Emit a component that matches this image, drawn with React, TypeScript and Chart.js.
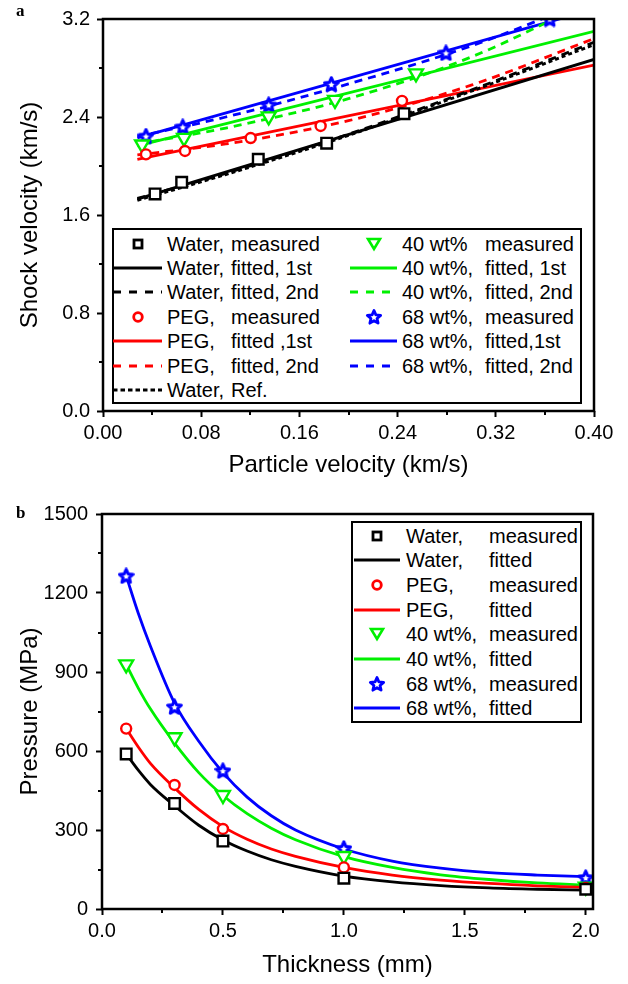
import React, { useEffect, useRef } from 'react';
import { Chart, registerables } from 'chart.js';

Chart.register(...registerables);

const FONT = '"Liberation Sans", Arial, Helvetica, sans-serif';
const BLACK = '#000000';
const RED = '#ff0000';
const GREEN = '#00f000';
const BLUE = '#0000ff';

// ---------------- Panel a : Shock velocity vs Particle velocity ----------------
const aXTicks = [0, 0.08, 0.16, 0.24, 0.32, 0.4];
const aXMinor = [0.04, 0.12, 0.2, 0.28, 0.36];
const aYTicks = [0, 0.8, 1.6, 2.4, 3.2];
const aYMinor = [0.4, 1.2, 2.0, 2.8];

const waterMeasUp = [0.0424, 0.0641, 0.1265, 0.1822, 0.2452];
const waterMeasUs = [1.772, 1.867, 2.055, 2.186, 2.427];
const pegMeasUp = [0.035, 0.0668, 0.1203, 0.1773, 0.2436];
const pegMeasUs = [2.095, 2.123, 2.228, 2.327, 2.532];
const wt40MeasUp = [0.0318, 0.066, 0.135, 0.189, 0.255];
const wt40MeasUs = [2.176, 2.23, 2.405, 2.54, 2.756];
const wt68MeasUp = [0.035, 0.065, 0.135, 0.186, 0.2794, 0.364];
const wt68MeasUs = [2.244, 2.319, 2.499, 2.667, 2.923, 3.2];

// 1st-order fitted lines (end points)
const fit1Up = [0.028, 0.4];
const waterFit1Us = [1.73, 2.87];
const pegFit1Us = [2.055, 2.823];
const wt40Fit1Us = [2.165, 3.1];
const wt68Fit1Us = [2.23, 3.28];

// 2nd-order fitted curves and water reference
const fit2Up = [0.028, 0.1, 0.2, 0.3, 0.4];
const waterFit2Us = [1.735, 1.94, 2.26, 2.62, 3.01];
const waterRefUs = [1.72, 1.93, 2.25, 2.61, 2.99];
const pegFit2Us = [2.09, 2.18, 2.37, 2.66, 3.04];
const wt40Fit2Us = [2.18, 2.31, 2.55, 2.89, 3.36];
const wt68Fit2Us = [2.24, 2.4, 2.67, 2.98, 3.37];

// ---------------- Panel b : Pressure vs Thickness ----------------
const bXTicks = [0, 0.5, 1.0, 1.5, 2.0];
const bXMinor = [0.25, 0.75, 1.25, 1.75];
const bYTicks = [0, 300, 600, 900, 1200, 1500];
const bYMinor = [150, 450, 750, 1050, 1350];

const thickMeas = [0.1, 0.3, 0.5, 1.0, 2.0];
const waterP = [589, 401, 258, 117, 75];
const pegP = [685, 471, 304, 158, 80];
const wt40P = [929, 652, 433, 201, 85];
const wt68P = [1265, 768, 525, 230, 119];

const thickFit = [0.1, 0.15, 0.2, 0.3, 0.4, 0.5, 0.6, 0.7, 0.8, 1.0, 1.2, 1.4, 1.6, 1.8, 2.0];
const waterFitP = [589, 527, 473, 392, 318, 262, 220, 187, 162, 125, 103, 89, 80, 75, 72];
const pegFitP = [685, 615, 553, 460, 378, 313, 265, 228, 200, 158, 129, 110, 97, 88, 82];
const wt40FitP = [929, 839, 760, 630, 518, 431, 362, 307, 263, 199, 158, 130, 112, 99, 91];
const wt68FitP = [1265, 1123, 999, 782, 637, 518, 425, 354, 300, 228, 182, 155, 138, 129, 123];

// ---------------- Legends ----------------
type Sym = 'square' | 'circle' | 'tri' | 'star' | 'solid' | 'dash' | 'dot';
interface LegItem { a: string; b: string; color: string; sym: Sym }

const legendA1: LegItem[] = [
  { a: 'Water,', b: 'measured', color: BLACK, sym: 'square' },
  { a: 'Water,', b: 'fitted, 1st', color: BLACK, sym: 'solid' },
  { a: 'Water,', b: 'fitted, 2nd', color: BLACK, sym: 'dash' },
  { a: 'PEG,', b: 'measured', color: RED, sym: 'circle' },
  { a: 'PEG,', b: 'fitted ,1st', color: RED, sym: 'solid' },
  { a: 'PEG,', b: 'fitted, 2nd', color: RED, sym: 'dash' },
  { a: 'Water,', b: 'Ref.', color: BLACK, sym: 'dot' },
];
const legendA2: LegItem[] = [
  { a: '40 wt%', b: 'measured', color: GREEN, sym: 'tri' },
  { a: '40 wt%,', b: 'fitted, 1st', color: GREEN, sym: 'solid' },
  { a: '40 wt%,', b: 'fitted, 2nd', color: GREEN, sym: 'dash' },
  { a: '68 wt%,', b: 'measured', color: BLUE, sym: 'star' },
  { a: '68 wt%,', b: 'fitted,1st', color: BLUE, sym: 'solid' },
  { a: '68 wt%,', b: 'fitted, 2nd', color: BLUE, sym: 'dash' },
];
const legendB: LegItem[] = [
  { a: 'Water,', b: 'measured', color: BLACK, sym: 'square' },
  { a: 'Water,', b: 'fitted', color: BLACK, sym: 'solid' },
  { a: 'PEG,', b: 'measured', color: RED, sym: 'circle' },
  { a: 'PEG,', b: 'fitted', color: RED, sym: 'solid' },
  { a: '40 wt%,', b: 'measured', color: GREEN, sym: 'tri' },
  { a: '40 wt%,', b: 'fitted', color: GREEN, sym: 'solid' },
  { a: '68 wt%,', b: 'measured', color: BLUE, sym: 'star' },
  { a: '68 wt%,', b: 'fitted', color: BLUE, sym: 'solid' },
];

// ---------------- helpers ----------------
const pts = (xs: number[], ys: number[]) => xs.map((x, i) => ({ x, y: ys[i] }));

function makeStarCanvas(size: number, color: string) {
  const c = document.createElement('canvas');
  c.width = size;
  c.height = size;
  const ctx = c.getContext('2d')!;
  const cx = size / 2;
  const cy = size / 2 + 0.6;
  const R = size / 2 - 1.3;
  const r = R * 0.46;
  ctx.beginPath();
  for (let i = 0; i < 10; i++) {
    const ang = -Math.PI / 2 + (i * Math.PI) / 5;
    const rad = i % 2 === 0 ? R : r;
    const x = cx + rad * Math.cos(ang);
    const y = cy + rad * Math.sin(ang);
    if (i === 0) ctx.moveTo(x, y);
    else ctx.lineTo(x, y);
  }
  ctx.closePath();
  ctx.fillStyle = '#ffffff';
  ctx.fill();
  ctx.strokeStyle = color;
  ctx.lineWidth = 3;
  ctx.lineJoin = 'round';
  ctx.stroke();
  return c;
}

const framePlugin = {
  id: 'frame',
  afterDraw(chart: any, _args: any, opts: any) {
    const { ctx, chartArea } = chart;
    const { left, right, top, bottom } = chartArea;
    const xs = chart.scales.x;
    const ys = chart.scales.y;
    ctx.save();
    ctx.strokeStyle = '#000';
    ctx.lineWidth = 2;
    for (const v of opts.xMinor || []) {
      const px = Math.round(xs.getPixelForValue(v));
      ctx.beginPath();
      ctx.moveTo(px, bottom);
      ctx.lineTo(px, bottom + 4);
      ctx.stroke();
    }
    for (const v of opts.yMinor || []) {
      const py = Math.round(ys.getPixelForValue(v));
      ctx.beginPath();
      ctx.moveTo(left, py);
      ctx.lineTo(left - 4, py);
      ctx.stroke();
    }
    ctx.lineWidth = 2.5;
    ctx.strokeRect(left, top, right - left, bottom - top);
    ctx.restore();
  },
};

function axis(o: {
  min: number; max: number; ticks: number[]; dec: number; title: string;
  horizontal: boolean; size: number; padding: number; titlePad: any;
}) {
  return {
    type: 'linear',
    min: o.min,
    max: o.max,
    afterFit: (s: any) => {
      if (o.horizontal) s.height = o.size;
      else s.width = o.size;
    },
    afterBuildTicks: (s: any) => {
      s.ticks = o.ticks.map((v) => ({ value: v }));
    },
    ticks: {
      callback: (v: any) => Number(v).toFixed(o.dec),
      font: { family: FONT, size: 20 },
      color: '#000',
      padding: o.padding,
      maxRotation: 0,
      autoSkip: false,
    },
    grid: {
      display: true,
      drawOnChartArea: false,
      drawTicks: true,
      tickLength: 6,
      tickWidth: 2,
      tickColor: '#000',
    },
    border: { display: false },
    title: {
      display: true,
      text: o.title,
      font: { family: FONT, size: 24 },
      color: '#000',
      padding: o.titlePad,
    },
  };
}

function measured(label: string, xs: number[], ys: number[], color: string, style: any, radius: number, rot = 0) {
  return {
    label,
    data: pts(xs, ys),
    showLine: false,
    pointStyle: style,
    pointRadius: radius,
    pointHoverRadius: radius,
    pointRotation: rot,
    pointBorderWidth: 2.4,
    pointBorderColor: color,
    pointBackgroundColor: '#ffffff',
    borderColor: color,
    backgroundColor: '#ffffff',
    order: 0,
  };
}

function fitted(label: string, xs: number[], ys: number[], color: string, dash: number[], curve: boolean) {
  return {
    label,
    data: pts(xs, ys),
    showLine: true,
    borderColor: color,
    borderWidth: 2.8,
    borderDash: dash,
    pointRadius: 0,
    pointHoverRadius: 0,
    cubicInterpolationMode: curve ? 'monotone' : 'default',
    tension: 0,
    fill: false,
    order: 1,
  };
}

const DASH = [8, 6];
const DOT = [4, 3];

function LegendSymbol({ item, x0, x1, mid, cy }: { item: LegItem; x0: number; x1: number; mid: number; cy: number }) {
  const w = x1 - x0;
  let el: any = null;
  const c = item.color;
  if (item.sym === 'solid' || item.sym === 'dash' || item.sym === 'dot') {
    const da = item.sym === 'dash' ? '8 8' : item.sym === 'dot' ? '4.5 3' : undefined;
    el = <line x1={0} y1={8} x2={w} y2={8} stroke={c} strokeWidth={2.8} strokeDasharray={da} />;
  } else {
    const m = mid - x0;
    if (item.sym === 'square') el = <rect x={m - 4} y={4} width={8} height={8} fill="#fff" stroke={c} strokeWidth={2.8} />;
    if (item.sym === 'circle') el = <circle cx={m} cy={8} r={4.3} fill="#fff" stroke={c} strokeWidth={2.8} />;
    if (item.sym === 'tri') el = <polygon points={`${m - 6},${3} ${m + 6},${3} ${m},${13}`} fill="#fff" stroke={c} strokeWidth={2.6} />;
    if (item.sym === 'star') {
      const p: string[] = [];
      for (let i = 0; i < 10; i++) {
        const ang = -Math.PI / 2 + (i * Math.PI) / 5;
        const rad = i % 2 === 0 ? 7 : 3.2;
        p.push(`${(m + rad * Math.cos(ang)).toFixed(2)},${(8.5 + rad * Math.sin(ang)).toFixed(2)}`);
      }
      el = <polygon points={p.join(' ')} fill="#fff" stroke={c} strokeWidth={2.8} strokeLinejoin="round" />;
    }
  }
  return (
    <svg width={w} height={16} style={{ position: 'absolute', left: x0, top: cy - 8, overflow: 'visible' }}>
      {el}
    </svg>
  );
}

function LegendColumn({ items, x0, x1, mid, tx, tx2, cy0, dy }: any) {
  return (
    <>
      {items.map((it: LegItem, i: number) => {
        const cy = cy0 + i * dy;
        return (
          <React.Fragment key={i}>
            <LegendSymbol item={it} x0={x0} x1={x1} mid={mid} cy={cy} />
            <div style={{ position: 'absolute', left: tx, top: cy - 12, font: `20px ${FONT}`, lineHeight: '24px', whiteSpace: 'pre', color: '#000' }}>{it.a}</div>
            <div style={{ position: 'absolute', left: tx2, top: cy - 12, font: `20px ${FONT}`, lineHeight: '24px', whiteSpace: 'pre', color: '#000' }}>{it.b}</div>
          </React.Fragment>
        );
      })}
    </>
  );
}

export default function App() {
  const refA = useRef<HTMLCanvasElement>(null);
  const refB = useRef<HTMLCanvasElement>(null);

  useEffect(() => {
    const star = makeStarCanvas(17, BLUE);

    const cfgA: any = {
      type: 'scatter',
      data: {
        datasets: [
          measured('Water, measured', waterMeasUp, waterMeasUs, BLACK, 'rect', 7.5),
          measured('PEG, measured', pegMeasUp, pegMeasUs, RED, 'circle', 5),
          measured('40 wt% measured', wt40MeasUp, wt40MeasUs, GREEN, 'triangle', 8, 180),
          measured('68 wt%, measured', wt68MeasUp, wt68MeasUs, BLUE, star, 8),
          fitted('Water, fitted, 1st', fit1Up, waterFit1Us, BLACK, [], false),
          fitted('Water, fitted, 2nd', fit2Up, waterFit2Us, BLACK, DASH, true),
          fitted('Water, Ref.', fit2Up, waterRefUs, BLACK, DOT, true),
          fitted('PEG, fitted ,1st', fit1Up, pegFit1Us, RED, [], false),
          fitted('PEG, fitted, 2nd', fit2Up, pegFit2Us, RED, DASH, true),
          fitted('40 wt%, fitted, 1st', fit1Up, wt40Fit1Us, GREEN, [], false),
          fitted('40 wt%, fitted, 2nd', fit2Up, wt40Fit2Us, GREEN, DASH, true),
          fitted('68 wt%, fitted,1st', fit1Up, wt68Fit1Us, BLUE, [], false),
          fitted('68 wt%, fitted, 2nd', fit2Up, wt68Fit2Us, BLUE, DASH, true),
        ],
      },
      options: {
        responsive: false,
        animation: false,
        events: [],
        layout: { padding: { top: 15, right: 34, left: 0, bottom: 0 } },
        scales: {
          x: axis({ min: 0, max: 0.4, ticks: aXTicks, dec: 2, title: 'Particle velocity (km/s)', horizontal: true, size: 81, padding: 4, titlePad: { top: 0, bottom: 12 } }),
          y: axis({ min: 0, max: 3.2, ticks: aYTicks, dec: 1, title: 'Shock velocity (km/s)', horizontal: false, size: 103, padding: 7, titlePad: { top: 16, bottom: 0 } }),
        },
        plugins: {
          legend: { display: false },
          tooltip: { enabled: false },
          frame: { xMinor: aXMinor, yMinor: aYMinor },
        },
      },
      plugins: [framePlugin],
    };

    const cfgB: any = {
      type: 'scatter',
      data: {
        datasets: [
          measured('Water, measured', thickMeas, waterP, BLACK, 'rect', 7.5),
          measured('PEG, measured', thickMeas, pegP, RED, 'circle', 5),
          measured('40 wt%, measured', thickMeas, wt40P, GREEN, 'triangle', 8, 180),
          measured('68 wt%, measured', thickMeas, wt68P, BLUE, star, 8),
          fitted('Water, fitted', thickFit, waterFitP, BLACK, [], true),
          fitted('PEG, fitted', thickFit, pegFitP, RED, [], true),
          fitted('40 wt%, fitted', thickFit, wt40FitP, GREEN, [], true),
          fitted('68 wt%, fitted', thickFit, wt68FitP, BLUE, [], true),
        ],
      },
      options: {
        responsive: false,
        animation: false,
        events: [],
        layout: { padding: { top: 22, right: 35, left: 0, bottom: 0 } },
        scales: {
          x: axis({ min: 0, max: 2.03, ticks: bXTicks, dec: 1, title: 'Thickness (mm)', horizontal: true, size: 75, padding: 4, titlePad: { top: 0, bottom: 4 } }),
          y: axis({ min: 0, max: 1500, ticks: bYTicks, dec: 0, title: 'Pressure (MPa)', horizontal: false, size: 102, padding: 8, titlePad: { top: 16, bottom: 0 } }),
        },
        plugins: {
          legend: { display: false },
          tooltip: { enabled: false },
          frame: { xMinor: bXMinor, yMinor: bYMinor },
        },
      },
      plugins: [framePlugin],
    };

    const ca = new Chart(refA.current!, cfgA);
    const cb = new Chart(refB.current!, cfgB);
    return () => {
      ca.destroy();
      cb.destroy();
    };
  }, []);

  const panelLabel = (t: string, top: number) => (
    <div style={{ position: 'absolute', left: 16, top, font: 'bold 17px "Liberation Serif", "Times New Roman", serif', lineHeight: '17px', color: '#000' }}>{t}</div>
  );

  return (
    <div style={{ position: 'absolute', left: 0, top: 0, width: 628, height: 984, background: '#fff', overflow: 'hidden' }}>
      <canvas ref={refA} width={628} height={492} style={{ position: 'absolute', left: 0, top: 0 }} />
      <canvas ref={refB} width={628} height={492} style={{ position: 'absolute', left: 0, top: 492 }} />
      {panelLabel('a', 2)}
      {panelLabel('b', 504)}

      <div style={{ position: 'absolute', left: 112, top: 228, width: 470, height: 176, border: '2px solid #000', boxSizing: 'border-box', background: '#fff' }} />
      <LegendColumn items={legendA1} x0={113} x1={162} mid={138} tx={167} tx2={231} cy0={243.5} dy={24.4} />
      <LegendColumn items={legendA2} x0={350} x1={397} mid={374} tx={402} tx2={485} cy0={243.5} dy={24.4} />

      <div style={{ position: 'absolute', left: 351, top: 521, width: 231, height: 202, border: '2px solid #000', boxSizing: 'border-box', background: '#fff' }} />
      <LegendColumn items={legendB} x0={354} x1={400} mid={377} tx={406} tx2={489} cy0={535.5} dy={24.7} />
    </div>
  );
}
